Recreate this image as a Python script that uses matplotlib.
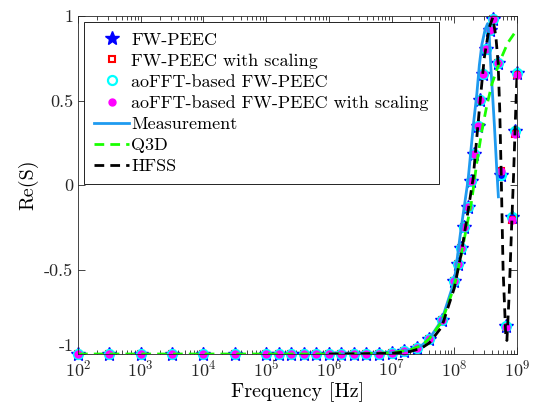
import numpy as np
import matplotlib
matplotlib.use("Agg")
import matplotlib.pyplot as plt
from matplotlib.ticker import LogLocator, FixedLocator, FixedFormatter, NullFormatter

# simulated points (FW-PEEC / aoFFT variants)
freq_sim = [1e2, 3.16e2, 1e3, 3.16e3, 1e4, 3.16e4, 1e5, 1.58e5, 2.51e5, 3.98e5,
            6.31e5, 1e6, 1.58e6, 2.51e6, 3.98e6, 6.31e6, 1e7, 1.58e7, 2.51e7, 3.98e7,
            6.31e7, 1e8, 1.15e8, 1.3e8, 1.45e8, 1.65e8, 1.85e8, 2.1e8, 2.35e8, 2.6e8,
            2.85e8, 3.2e8, 3.7e8, 4.1e8, 5.0e8, 5.6e8, 6.6e8, 8.2e8, 9.3e8, 1e9]
re_fw = [-1, -1, -1, -1, -1, -1, -1, -1, -1, -1,
         -1, -1, -1, -1, -0.999, -0.998, -0.995, -0.985, -0.965, -0.91,
         -0.80, -0.57, -0.47, -0.37, -0.25, -0.13, 0.025, 0.186, 0.347, 0.504,
         0.657, 0.804, 0.918, 0.985, 0.724, 0.06, -0.835, -0.19, 0.32, 0.66]
re_fw_scaled = [-1, -1, -1, -1, -1, -1, -1, -1, -1, -1,
                -1, -1, -1, -1, -0.999, -0.998, -0.995, -0.985, -0.965, -0.91,
                -0.80, -0.57, -0.47, -0.37, -0.25, -0.13, 0.025, 0.186, 0.347, 0.504,
                0.657, 0.804, 0.918, 0.985, 0.72, 0.08, -0.84, -0.21, 0.30, 0.65]
re_aofft = re_fw
re_aofft_scaled = re_fw_scaled

# measurement
freq_meas = [1e6, 3e6, 1e7, 2e7, 3e7, 4e7, 6.3e7, 1e8, 1.27e8, 1.66e8, 2.02e8,
             2.29e8, 2.51e8, 2.75e8, 3.1e8, 3.4e8, 3.62e8, 3.8e8, 4.05e8, 4.35e8,
             4.76e8, 5.05e8]
re_meas = [-1, -0.999, -0.993, -0.975, -0.95, -0.91, -0.80, -0.57, -0.27, 0.03, 0.36,
           0.54, 0.71, 0.83, 0.92, 0.955, 0.87, 0.72, 0.55, 0.36, 0.09, -0.07]

# Q3D
freq_q3d = [1e2, 1e4, 1e6, 3e6, 1e7, 2e7, 3e7, 4e7, 6.3e7, 1e8, 1.26e8, 1.58e8,
            1.9e8, 2.28e8, 2.75e8, 3.3e8, 4e8, 5.3e8, 7.1e8, 1e9]
re_q3d = [-1, -1, -1, -0.999, -0.993, -0.975, -0.95, -0.91, -0.81, -0.6, -0.43, -0.245,
          -0.09, 0.13, 0.32, 0.47, 0.6, 0.73, 0.84, 0.92]

# HFSS
freq_hfss = [1e6, 3e6, 1e7, 2e7, 3e7, 4e7, 6.3e7, 1e8, 1.3e8, 1.6e8, 2e8, 2.5e8, 3e8,
             3.6e8, 4.1e8, 4.6e8, 5e8, 5.3e8, 5.6e8, 6e8, 6.6e8, 6.9e8, 7.5e8, 8.2e8,
             8.8e8, 9.3e8, 1e9]
re_hfss = [-1, -0.999, -0.996, -0.985, -0.965, -0.935, -0.84, -0.61, -0.40, -0.19, 0.04,
           0.44, 0.75, 0.93, 0.99, 0.88, 0.72, 0.45, 0.06, -0.5, -0.88, -0.92, -0.65,
           -0.25, 0.05, 0.32, 0.66]

y_ticks = [-1, -0.5, 0, 0.5, 1]
y_tick_labels = ["-1", "-0.5", "0", "0.5", "1"]

plt.rcParams["font.family"] = ["cmr10", "DejaVu Serif"]
plt.rcParams["mathtext.fontset"] = "cm"
plt.rcParams["axes.unicode_minus"] = False
plt.rcParams["axes.formatter.use_mathtext"] = True

fig = plt.figure(figsize=(5.35, 4.09), dpi=100)
ax = fig.add_axes([78 / 535, 1 - 354 / 409, 439 / 535, 338 / 409])

ax.plot(freq_sim, re_fw, linestyle="none", marker="*", color="blue",
        markersize=10, clip_on=False, label="FW-PEEC")
ax.plot(freq_sim, re_fw_scaled, linestyle="none", marker="s", mfc="none", mec="red",
        mew=1.5, markersize=4.5, clip_on=False, label="FW-PEEC with scaling")
ax.plot(freq_sim, re_aofft, linestyle="none", marker="o", mfc="none", mec="cyan",
        mew=1.6, markersize=6.5, clip_on=False, label="aoFFT-based FW-PEEC")
ax.plot(freq_sim, re_aofft_scaled, linestyle="none", marker="o", color="magenta",
        markersize=5, clip_on=False, label="aoFFT-based FW-PEEC with scaling")
ax.plot(freq_meas, re_meas, color="#1f9bf0", lw=2, label="Measurement")
ax.plot(freq_q3d, re_q3d, color="#19ff00", lw=2, dashes=(3.5, 2.2), label="Q3D")
ax.plot(freq_hfss, re_hfss, color="black", lw=2, dashes=(3.5, 2.2), label="HFSS")

ax.set_xscale("log")
ax.set_xlim(1e2, 1e9)
ax.set_ylim(-1, 1)
ax.xaxis.set_major_locator(LogLocator(base=10, numticks=20))
ax.xaxis.set_minor_locator(LogLocator(base=10, subs=np.arange(2, 10), numticks=20))
ax.xaxis.set_minor_formatter(NullFormatter())
ax.yaxis.set_major_locator(FixedLocator(y_ticks))
ax.yaxis.set_major_formatter(FixedFormatter(y_tick_labels))

ax.tick_params(which="both", direction="in", top=True, right=True, labelsize=13,
               width=0.6, colors="#262626")
ax.tick_params(which="major", length=5)
ax.tick_params(which="minor", length=3)
for s in ax.spines.values():
    s.set_linewidth(0.6)
    s.set_color("#262626")

# lift the "-1" label clear of the 10^2 label, as in the original
ax.yaxis.get_major_ticks()[0].label1.set_verticalalignment("bottom")

ax.set_xlabel("Frequency [Hz]", fontsize=14.5, labelpad=2)
ax.set_ylabel("Re(S)", fontsize=14.5, labelpad=4)

leg = ax.legend(loc="upper left", bbox_to_anchor=(6 / 439, 1 - 6 / 338), fontsize=13,
                frameon=True, fancybox=False, edgecolor="black", framealpha=1,
                handlelength=1.95, handletextpad=0.12, labelspacing=0.3,
                borderpad=0.55, borderaxespad=0, markerscale=1.0)
leg.get_frame().set_linewidth(0.6)

fig.savefig("out.png", dpi=100)
